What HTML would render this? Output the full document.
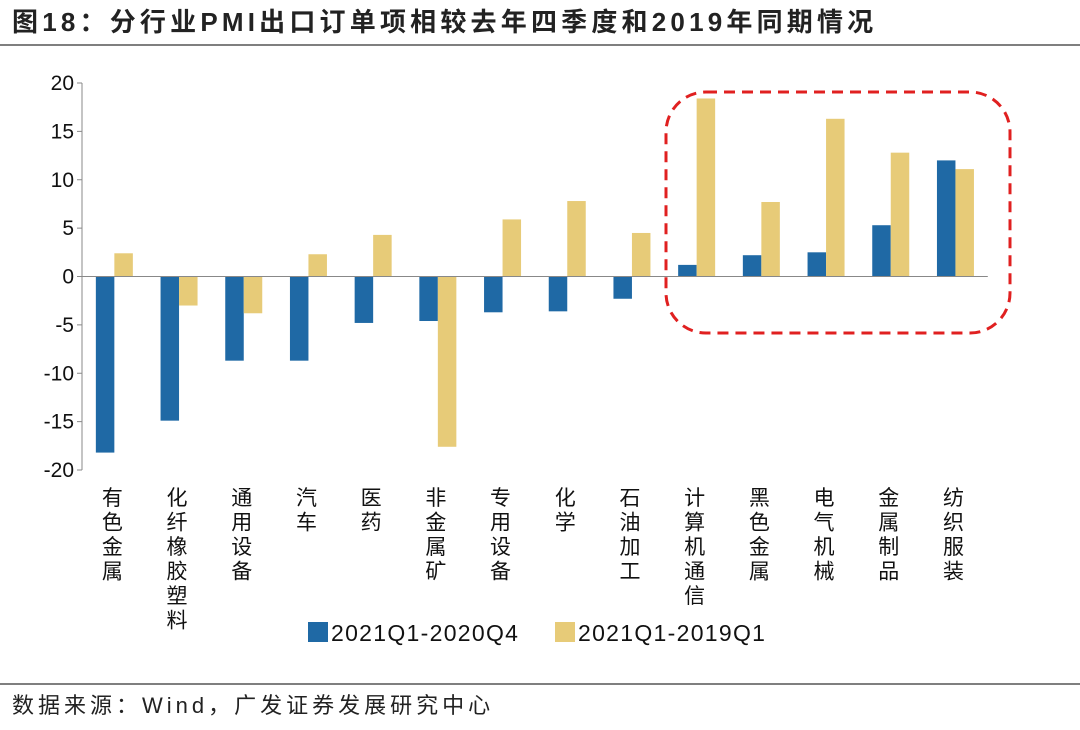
<!DOCTYPE html>
<html><head><meta charset="utf-8"><style>
body{margin:0;background:#fff;}
svg text{font-family:"Liberation Sans","Noto Sans CJK SC",sans-serif;}
</style></head><body>
<svg width="1080" height="725" viewBox="0 0 1080 725">
<text x="12" y="31" font-size="26" font-weight="bold" letter-spacing="4.2" fill="#222">图18：分行业PMI出口订单项相较去年四季度和2019年同期情况</text>
<line x1="0" y1="45" x2="1080" y2="45" stroke="#555" stroke-width="1.5"/>
<g id="plot"></g>
<rect x="666" y="92" width="344" height="241" rx="40" ry="40" fill="none" stroke="#e02020" stroke-width="3" stroke-dasharray="11,7"/>
<rect x="308" y="622" width="20" height="20" fill="#1f69a5"/>
<text x="331" y="641" font-size="23" letter-spacing="1.3" fill="#111">2021Q1-2020Q4</text>
<rect x="555" y="622" width="20" height="20" fill="#e7cb78"/>
<text x="578" y="641" font-size="23" letter-spacing="1.3" fill="#111">2021Q1-2019Q1</text>
<line x1="0" y1="684" x2="1080" y2="684" stroke="#555" stroke-width="1.5"/>
<text x="12" y="713" font-size="22" letter-spacing="4" fill="#222">数据来源：Wind，广发证券发展研究中心</text>
</svg>
<script>
const categories=["有色金属","化纤橡胶塑料","通用设备","汽车","医药","非金属矿","专用设备","化学","石油加工","计算机通信","黑色金属","电气机械","金属制品","纺织服装"];
const seriesQ4=[-18.2,-14.9,-8.7,-8.7,-4.8,-4.6,-3.7,-3.6,-2.3,1.2,2.2,2.5,5.3,12.0];
const series2019=[2.4,-3.0,-3.8,2.3,4.3,-17.6,5.9,7.8,4.5,18.4,7.7,16.3,12.8,11.1];
const yTicks=[20,15,10,5,0,-5,-10,-15,-20];
const NS="http://www.w3.org/2000/svg";
const g=document.getElementById('plot');
const x0=82,step=64.7,yTop=83,yBot=470,yMax=20,yMin=-20,bw=18.5;
function y(v){return yTop+(yMax-v)/(yMax-yMin)*(yBot-yTop);}
function xc(i){return x0+step*(i+0.5);}
function mk(t,a){const e=document.createElementNS(NS,t);for(const k in a)e.setAttribute(k,a[k]);g.appendChild(e);return e;}
let ax=mk('line',{x1:x0,y1:yTop,x2:x0,y2:yBot,stroke:'#888','stroke-width':1});


yTicks.forEach(v=>{
 const tk=mk('line',{x1:x0-5,y1:y(v),x2:x0,y2:y(v),stroke:'#888'});
 
 
 const t=mk('text',{x:x0-8,y:y(v)+7,'font-size':21,'text-anchor':'end',fill:'#111'});
 t.textContent=v;
 
 
});
categories.forEach((c,i)=>{
 const a=seriesQ4[i],b=series2019[i];
 const r1=mk('rect',{x:xc(i)-bw,y:Math.min(y(a),y(0)),width:bw,height:Math.abs(y(a)-y(0)),fill:'#1f69a5'});
 
 
 const r2=mk('rect',{x:xc(i),y:Math.min(y(b),y(0)),width:bw,height:Math.abs(y(b)-y(0)),fill:'#e7cb78'});
 
 
 [...c].forEach((ch,j)=>{
  const t=mk('text',{x:xc(i)-2,y:505+j*24.5,'font-size':21,'text-anchor':'middle',fill:'#111'});
  t.textContent=ch;
  
  
 });
});
let zl=mk('line',{x1:x0,y1:y(0),x2:x0+step*14,y2:y(0),stroke:'#888'});


</script>
</body></html>
